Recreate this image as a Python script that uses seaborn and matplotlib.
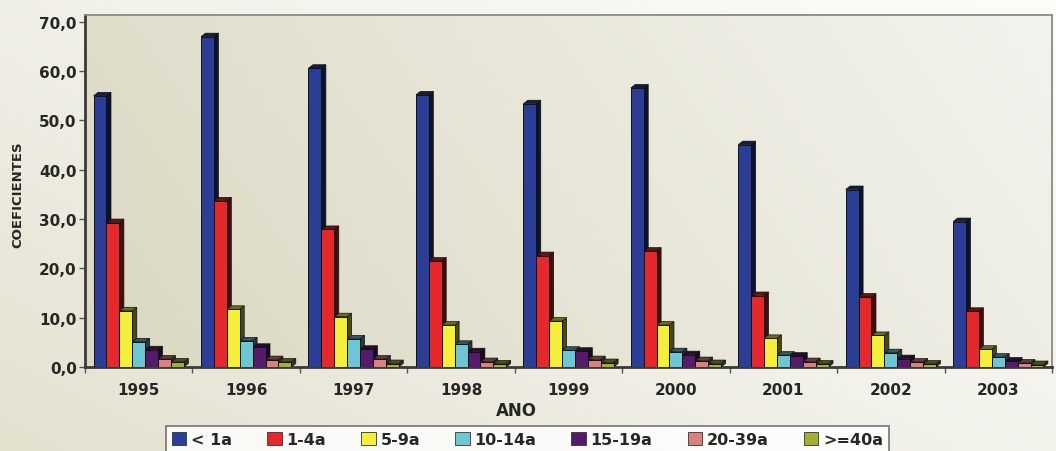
import numpy as np
import pandas as pd
import matplotlib
matplotlib.use("Agg")
import matplotlib.pyplot as plt
import seaborn as sns
from matplotlib.patches import Polygon, Patch
from matplotlib.colors import to_rgb, LinearSegmentedColormap

# Coeficientes por ano e faixa etária
anos = ["1995", "1996", "1997", "1998", "1999", "2000", "2001", "2002", "2003"]
faixas = ["< 1a", "1-4a", "5-9a", "10-14a", "15-19a", "20-39a", ">=40a"]

menor_1a = [55.0, 67.0, 60.6, 55.2, 53.4, 56.6, 45.1, 36.0, 29.5]
de_1_4a = [29.3, 33.7, 27.9, 21.5, 22.6, 23.5, 14.5, 14.2, 11.3]
de_5_9a = [11.4, 11.7, 10.2, 8.5, 9.3, 8.5, 5.8, 6.4, 3.6]
de_10_14a = [5.1, 5.3, 5.7, 4.6, 3.4, 3.1, 2.4, 2.9, 2.0]
de_15_19a = [3.5, 4.0, 3.6, 3.1, 3.2, 2.5, 2.2, 1.7, 1.2]
de_20_39a = [1.6, 1.5, 1.6, 1.1, 1.5, 1.3, 1.1, 1.0, 0.8]
de_40a_mais = [1.0, 1.0, 0.7, 0.6, 0.9, 0.7, 0.6, 0.6, 0.5]

cores = ["#2c3d96", "#e5282b", "#f4ef3c", "#6fc6d2", "#551b6b", "#d9817f", "#a4ad34"]

series = [menor_1a, de_1_4a, de_5_9a, de_10_14a, de_15_19a, de_20_39a, de_40a_mais]
df = pd.DataFrame(
    [(ano, faixa, vals[i]) for faixa, vals in zip(faixas, series) for i, ano in enumerate(anos)],
    columns=["ano", "faixa", "coef"],
)

sns.set_theme(style="white")
plt.rcParams["font.family"] = ["DejaVu Sans"]

W, H = 1056, 452
fig = plt.figure(figsize=(W / 100, H / 100), dpi=100)

# Fundo da figura: degradê bege -> branco
bg = fig.add_axes([0, 0, 1, 1], zorder=-10)
bg.axis("off")
yy, xx = np.mgrid[0:1:200j, 0:1:400j]
t = np.clip(0.55 * xx + 0.45 * yy, 0, 1)
cmap_bg = LinearSegmentedColormap.from_list("bg", ["#e4e1cf", "#f2f1ea", "#fcfcfa"])
bg.imshow(t, cmap=cmap_bg, aspect="auto", extent=(0, 1, 0, 1), origin="lower")

pos = [85 / W, 1 - 368 / H, 967 / W, 352.5 / H]

# Fundo da área de plotagem
pbg = fig.add_axes(pos, zorder=-5)
pbg.axis("off")
t2 = np.clip(0.8 * xx + 0.2 * yy, 0, 1)
cmap_plot = LinearSegmentedColormap.from_list("pl", ["#dad7c2", "#e8e6d8", "#f3f3ee"])
pbg.imshow(t2, cmap=cmap_plot, aspect="auto", extent=(0, 1, 0, 1), origin="lower")

ax = fig.add_axes(pos)
ax.set_facecolor("none")

sns.barplot(
    data=df, x="ano", y="coef", hue="faixa", order=anos, hue_order=faixas,
    palette=cores, saturation=1, width=0.84, gap=0, edgecolor="#111111",
    linewidth=0.7, legend=False, ax=ax, zorder=3,
)

ax.set_xlim(-0.5, len(anos) - 0.5)
ax.set_ylim(0, 71.5)

# Profundidade das barras (efeito 3D)
px_x = 967 / len(anos)
px_y = 352.5 / 71.5
dx = 4.5 / px_x
dy = 3.5 / px_y
for p in list(ax.patches):
    x, w, h = p.get_x(), p.get_width(), p.get_height()
    rgb = np.array(to_rgb(p.get_facecolor()))
    side = Polygon([(x + w, 0), (x + w + dx, dy), (x + w + dx, h + dy), (x + w, h)],
                   closed=True, facecolor=rgb * 0.3, edgecolor="#111111", lw=0.5, zorder=2.5)
    top = Polygon([(x, h), (x + dx, h + dy), (x + w + dx, h + dy), (x + w, h)],
                  closed=True, facecolor=rgb * 0.45, edgecolor="#111111", lw=0.5, zorder=2.5)
    ax.add_patch(side)
    ax.add_patch(top)

# Eixos
yt = list(range(0, 71, 10))
ax.set_yticks(yt)
ax.set_yticklabels([f"{v:.1f}".replace(".", ",") for v in yt],
                   fontsize=11, fontweight="bold", color="#262626")
ax.tick_params(axis="y", length=4, width=1, color="#555555", pad=2, left=True)

ax.set_xticks(range(len(anos)))
ax.set_xticklabels(anos, fontsize=11, fontweight="bold", color="#262626")
ax.tick_params(axis="x", which="major", length=0, pad=11)
ax.set_xticks(np.arange(-0.5, len(anos), 1.0), minor=True)
ax.tick_params(axis="x", which="minor", length=4, width=1, color="#555555", bottom=True)

ax.set_xlabel("")
ax.set_ylabel("")

for side_name in ["left", "bottom"]:
    ax.spines[side_name].set_color("#3a3a3a")
    ax.spines[side_name].set_linewidth(2)
for side_name in ["top", "right"]:
    ax.spines[side_name].set_color("#8a8a80")
    ax.spines[side_name].set_linewidth(1.3)

fig.text(18 / W, 1 - 195 / H, "COEFICIENTES", rotation=90, ha="center", va="center",
         fontsize=9.5, fontweight="bold", color="#262626")
fig.text(516 / W, 1 - 411 / H, "ANO", ha="center", va="center",
         fontsize=12, fontweight="bold", color="#262626")

handles = [Patch(facecolor=c, edgecolor="#333333", lw=0.6) for c in cores]
leg = fig.legend(
    handles, faixas, ncol=7, loc="upper center", bbox_to_anchor=(527.5 / W, 1 - 427 / H),
    borderaxespad=0, frameon=True, fancybox=False, handlelength=0.9, handleheight=0.9,
    handletextpad=0.3, columnspacing=2.2, borderpad=0.35,
    prop={"size": 11.5, "weight": "bold"},
)
leg.get_frame().set_edgecolor("#555555")
leg.get_frame().set_linewidth(1.2)
leg.get_frame().set_facecolor("white")
for txt in leg.get_texts():
    txt.set_color("#262626")

fig.savefig("out.png", dpi=100)
